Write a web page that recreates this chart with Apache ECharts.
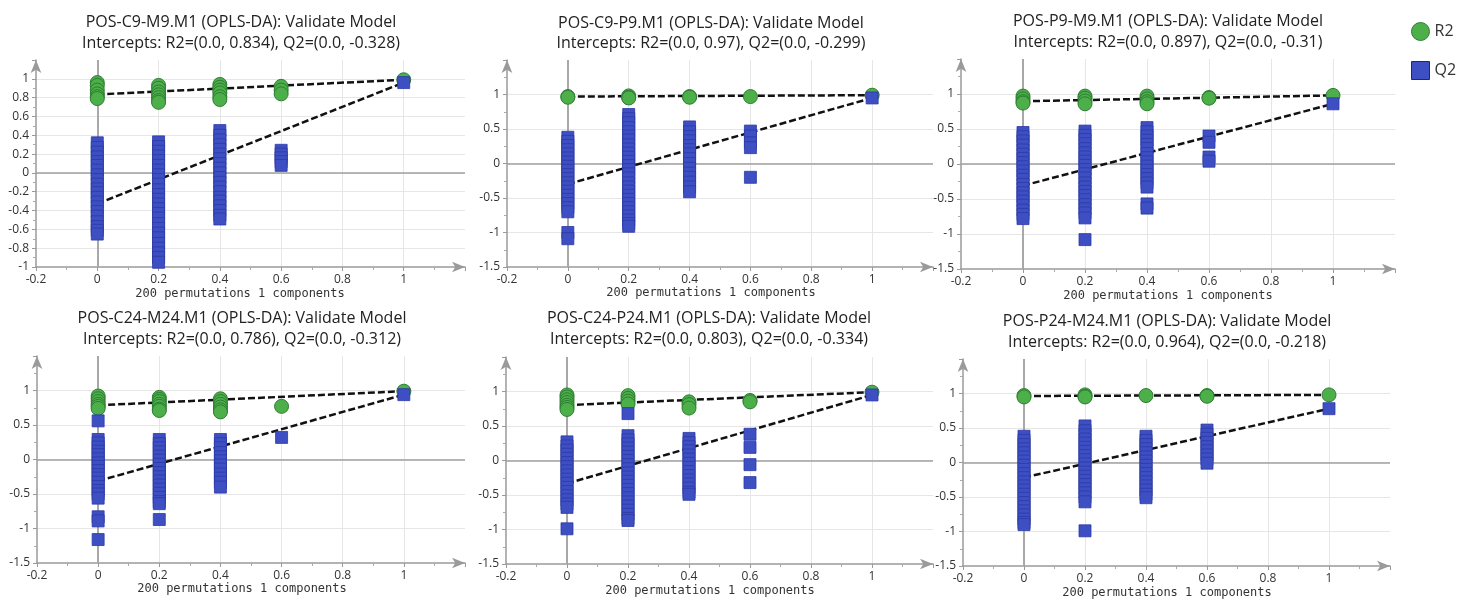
<!DOCTYPE html>
<html>
<head>
<meta charset="utf-8">
<script src="https://cdn.jsdelivr.net/npm/echarts@6/dist/echarts.min.js"></script>
<style>
html, body { margin: 0; padding: 0; background: #fff; }
#chart { width: 1460px; height: 599px; }
</style>
</head>
<body>
<div id="chart"></div>
<script>
// permutation correlation positions (x) shared by all six models
var xs = [0, 0.2, 0.4, 0.6, 1];

var modelNames = ["POS-C9-M9.M1", "POS-C9-P9.M1", "POS-P9-M9.M1",
                  "POS-C24-M24.M1", "POS-C24-P24.M1", "POS-P24-M24.M1"];
var r2Intercepts = [0.834, 0.97, 0.897, 0.786, 0.803, 0.964];
var q2Intercepts = [-0.328, -0.299, -0.31, -0.312, -0.334, -0.218];

// y axis ticks per panel
var yMin = [-1, -1.5, -1.5, -1.5, -1.5, -1.5];
var yMax = [1.2, 1.5, 1.5, 1.5, 1.5, 1.5];
var yStep = [0.2, 0.5, 0.5, 0.5, 0.5, 0.5];

// one list of values per x position
var r2_C9M9 = [[0.96, 0.93, 0.88, 0.84, 0.81, 0.79], [0.93, 0.9, 0.86, 0.83, 0.8, 0.77, 0.75],
               [0.94, 0.91, 0.88, 0.85, 0.81, 0.78], [0.92, 0.88, 0.84], [0.99]];
var q2_C9M9 = [[0.32, 0.27, 0.22, 0.17, 0.12, 0.08, 0.03, -0.02, -0.07, -0.12, -0.17, -0.21, -0.26, -0.31, -0.36, -0.41, -0.46, -0.52, -0.57, -0.61, -0.65],
               [0.33, 0.28, 0.23, 0.18, 0.13, 0.08, 0.03, -0.02, -0.07, -0.12, -0.18, -0.23, -0.28, -0.33, -0.38, -0.43, -0.48, -0.54, -0.59, -0.64, -0.69, -0.75, -0.8, -0.85, -0.9, -0.95],
               [0.45, 0.4, 0.35, 0.3, 0.25, 0.2, 0.15, 0.1, 0.05, 0.0, -0.05, -0.1, -0.15, -0.2, -0.26, -0.3, -0.35, -0.4, -0.45, -0.49],
               [0.24, 0.2, 0.16, 0.12, 0.08], [0.96]];

var r2_C9P9 = [[0.97, 0.96], [0.98, 0.96, 0.95], [0.97, 0.96], [0.97], [0.99]];
var q2_C9P9 = [[0.38, 0.32, 0.26, 0.2, 0.14, 0.08, 0.02, -0.04, -0.1, -0.16, -0.22, -0.28, -0.34, -0.4, -0.46, -0.52, -0.58, -0.64, -0.7, -1.0, -1.09],
               [0.71, 0.65, 0.59, 0.52, 0.46, 0.4, 0.34, 0.27, 0.21, 0.15, 0.09, 0.03, -0.03, -0.09, -0.15, -0.21, -0.28, -0.34, -0.4, -0.46, -0.52, -0.58, -0.64, -0.7, -0.76, -0.82, -0.87, -0.91],
               [0.53, 0.46, 0.39, 0.33, 0.26, 0.2, 0.14, 0.07, 0.0, -0.07, -0.14, -0.2, -0.27, -0.34, -0.41],
               [0.47, 0.4, 0.3, 0.23, -0.2], [0.95]];

var r2_P9M9 = [[0.97, 0.93, 0.89, 0.87], [0.97, 0.94, 0.9, 0.86], [0.97, 0.93, 0.89, 0.86], [0.95, 0.94], [0.98]];
var q2_P9M9 = [[0.45, 0.39, 0.33, 0.27, 0.2, 0.14, 0.08, 0.02, -0.04, -0.1, -0.16, -0.22, -0.29, -0.35, -0.41, -0.47, -0.53, -0.59, -0.66, -0.72, -0.78],
               [0.47, 0.41, 0.35, 0.29, 0.22, 0.16, 0.1, 0.04, -0.02, -0.08, -0.14, -0.2, -0.27, -0.33, -0.39, -0.45, -0.51, -0.58, -0.64, -0.7, -0.77, -1.08],
               [0.52, 0.46, 0.4, 0.34, 0.28, 0.22, 0.15, 0.09, 0.03, -0.03, -0.09, -0.15, -0.21, -0.27, -0.33, -0.57, -0.63],
               [0.4, 0.31, 0.1, 0.04], [0.86]];

var r2_C24M24 = [[0.92, 0.88, 0.84, 0.8, 0.77, 0.74], [0.9, 0.87, 0.84, 0.8, 0.77, 0.73, 0.71],
                 [0.88, 0.84, 0.8, 0.76, 0.72, 0.69], [0.77], [0.99]];
var q2_C24M24 = [[0.56, 0.29, 0.24, 0.18, 0.12, 0.07, 0.01, -0.05, -0.1, -0.16, -0.22, -0.27, -0.33, -0.39, -0.45, -0.5, -0.56, -0.83, -0.89, -1.16],
                 [0.29, 0.23, 0.17, 0.11, 0.05, -0.01, -0.07, -0.13, -0.19, -0.25, -0.31, -0.37, -0.43, -0.49, -0.55, -0.61, -0.64, -0.87],
                 [0.29, 0.23, 0.17, 0.1, 0.04, -0.02, -0.08, -0.14, -0.21, -0.27, -0.33, -0.4],
                 [0.32], [0.94]];

var r2_C24P24 = [[0.95, 0.92, 0.88, 0.84, 0.8, 0.77, 0.74], [0.94, 0.9, 0.86, 0.82],
                 [0.85, 0.81, 0.76], [0.87, 0.85], [0.99]];
var q2_C24P24 = [[0.27, 0.21, 0.15, 0.09, 0.03, -0.03, -0.09, -0.15, -0.21, -0.27, -0.33, -0.39, -0.45, -0.51, -0.57, -0.63, -0.68, -0.99],
                 [0.68, 0.36, 0.3, 0.24, 0.18, 0.12, 0.06, 0.0, -0.06, -0.12, -0.18, -0.24, -0.3, -0.36, -0.42, -0.48, -0.54, -0.6, -0.66, -0.72, -0.78, -0.84, -0.87],
                 [0.32, 0.26, 0.2, 0.14, 0.08, 0.02, -0.04, -0.1, -0.16, -0.22, -0.28, -0.34, -0.4, -0.46, -0.49],
                 [0.38, 0.19, -0.06, -0.32], [0.95]];

var r2_P24M24 = [[0.97, 0.95], [0.98, 0.96, 0.95], [0.97], [0.97, 0.96], [0.98]];
var q2_P24M24 = [[0.38, 0.32, 0.26, 0.2, 0.14, 0.08, 0.02, -0.04, -0.1, -0.16, -0.22, -0.28, -0.34, -0.4, -0.46, -0.52, -0.58, -0.64, -0.7, -0.76, -0.82, -0.87, -0.9],
                 [0.53, 0.46, 0.4, 0.34, 0.28, 0.22, 0.16, 0.1, 0.04, -0.02, -0.08, -0.14, -0.2, -0.26, -0.32, -0.38, -0.44, -0.5, -0.57, -0.99],
                 [0.38, 0.32, 0.26, 0.2, 0.14, 0.08, 0.02, -0.04, -0.1, -0.16, -0.22, -0.28, -0.34, -0.4, -0.46, -0.51],
                 [0.47, 0.41, 0.35, 0.29, 0.23, 0.17, 0.11, 0.05, -0.01], [0.78]];

var r2Sets = [r2_C9M9, r2_C9P9, r2_P9M9, r2_C24M24, r2_C24P24, r2_P24M24];
var q2Sets = [q2_C9M9, q2_C9P9, q2_P9M9, q2_C24M24, q2_C24P24, q2_P24M24];

// layout (pixel boxes of each plot)
var grids = [
    { left: 36, top: 60, width: 429, height: 207 },
    { left: 507, top: 60, width: 426, height: 207 },
    { left: 961, top: 59, width: 434, height: 210 },
    { left: 37, top: 356, width: 428, height: 207 },
    { left: 506, top: 357, width: 427, height: 207 },
    { left: 963, top: 359, width: 427, height: 207 }
];
var titlePos = [[241, 22, 43], [711, 23, 43], [1168, 21, 42], [242, 318, 339], [709, 318, 339], [1167, 321, 342]];
var namePos = [[240, 294], [711, 293], [1168, 296], [242, 589], [710, 591], [1167, 593]];

var font = "'Open Sans', 'Noto Sans', sans-serif";
var green = "#4caf4a", greenDark = "#2e7d32";
var blue = "#3d4fc2", blueDark = "#2c3aa6";

function toPoints(cols) {
    var out = [];
    cols.forEach(function (c, i) {
        c.forEach(function (v) { out.push([xs[i], v]); });
    });
    return out;
}

var xAxes = [], yAxes = [], series = [], graphics = [];

grids.forEach(function (g, i) {
    var maxY = yMax[i];
    xAxes.push({
        type: "value", gridIndex: i, min: -0.2, max: 1.2, interval: 0.2,
        axisLine: { onZero: false, symbol: ["none", "arrow"], symbolSize: [8, 13],
                    lineStyle: { color: "#9a9a9a", width: 1.5 } },
        axisTick: { length: 4, lineStyle: { color: "#9a9a9a" } },
        minorTick: { show: true, splitNumber: 2, length: 3, lineStyle: { color: "#aaa" } },
        axisLabel: { color: "#333", fontSize: 12, fontFamily: font, margin: 7,
                     formatter: function (v) { return Math.abs(v - 1.2) < 1e-6 ? "" : String(v); } },
        splitLine: { show: true, showMinLine: false, showMaxLine: false, lineStyle: { color: "#e6e6e6" } }
    });
    yAxes.push({
        type: "value", gridIndex: i, min: yMin[i], max: maxY, interval: yStep[i],
        axisLine: { onZero: false, symbol: ["none", "arrow"], symbolSize: [8, 13],
                    lineStyle: { color: "#9a9a9a", width: 1.5 } },
        axisTick: { length: 4, lineStyle: { color: "#9a9a9a" } },
        minorTick: { show: true, splitNumber: 2, length: 3, lineStyle: { color: "#aaa" } },
        axisLabel: { color: "#333", fontSize: 12, fontFamily: font, margin: 7,
                     formatter: function (v) { return Math.abs(v - maxY) < 1e-6 ? "" : String(v); } },
        splitLine: { show: true, showMinLine: false, showMaxLine: false, lineStyle: { color: "#e6e6e6" } }
    });

    var r2 = r2Sets[i], q2 = q2Sets[i];
    var dash = { color: "#111", width: 2.5, type: [7, 3] };
    series.push({
        type: "line", name: "r2fit" + i, xAxisIndex: i, yAxisIndex: i, silent: true,
        symbol: "none", lineStyle: dash, z: 2,
        data: [[0, r2Intercepts[i]], [1, r2[4][0]]],
        markLine: {
            silent: true, symbol: "none", z: 1, label: { show: false },
            data: [
                { yAxis: 0, lineStyle: { color: "#a0a0a0", type: "solid", width: 1.5 } },
                { xAxis: 0, lineStyle: { color: "#a8a8a8", type: "solid", width: 2 } }
            ]
        }
    });
    series.push({
        type: "line", name: "q2fit" + i, xAxisIndex: i, yAxisIndex: i, silent: true,
        symbol: "none", lineStyle: dash, z: 2,
        data: [[0, q2Intercepts[i]], [1, q2[4][0]]]
    });
    series.push({
        type: "scatter", name: "R2", xAxisIndex: i, yAxisIndex: i, z: 3,
        symbol: "circle", symbolSize: 14,
        itemStyle: { color: green, borderColor: greenDark, borderWidth: 1, opacity: 1 },
        data: toPoints(r2)
    });
    series.push({
        type: "scatter", name: "Q2", xAxisIndex: i, yAxisIndex: i, z: 4,
        symbol: "rect", symbolSize: 12,
        itemStyle: { color: blue, borderColor: blueDark, borderWidth: 0.8, opacity: 1 },
        data: toPoints(q2)
    });

    var tp = titlePos[i];
    graphics.push({
        type: "text", x: tp[0], y: tp[1],
        style: { text: modelNames[i] + " (OPLS-DA): Validate Model", align: "center", verticalAlign: "middle",
                 fontSize: 16, fontFamily: font, fill: "#222" }
    });
    graphics.push({
        type: "text", x: tp[0], y: tp[2],
        style: { text: "Intercepts: R2=(0.0, " + r2Intercepts[i] + "), Q2=(0.0, " + q2Intercepts[i] + ")",
                 align: "center", verticalAlign: "middle", fontSize: 16, fontFamily: font, fill: "#222" }
    });
    graphics.push({
        type: "text", x: namePos[i][0], y: namePos[i][1],
        style: { text: "200 permutations 1 components", align: "center", verticalAlign: "middle",
                 fontSize: 12, fontFamily: "'DejaVu Sans Mono', monospace", fill: "#333" }
    });
});

var chart = echarts.init(document.getElementById("chart"));
chart.setOption({
    animation: false,
    grid: grids,
    xAxis: xAxes,
    yAxis: yAxes,
    legend: {
        orient: "vertical", left: 1406, top: 17, itemWidth: 18, itemHeight: 18, itemGap: 20,
        textStyle: { fontSize: 16, fontFamily: font, color: "#333" },
        data: [
            { name: "R2", icon: "circle", itemStyle: { color: green, borderColor: greenDark, borderWidth: 1 } },
            { name: "Q2", icon: "rect", itemStyle: { color: blue, borderColor: "#1c2580", borderWidth: 1 } }
        ]
    },
    graphic: graphics,
    series: series
});
window.addEventListener("resize", chart.resize);
</script>
</body>
</html>
